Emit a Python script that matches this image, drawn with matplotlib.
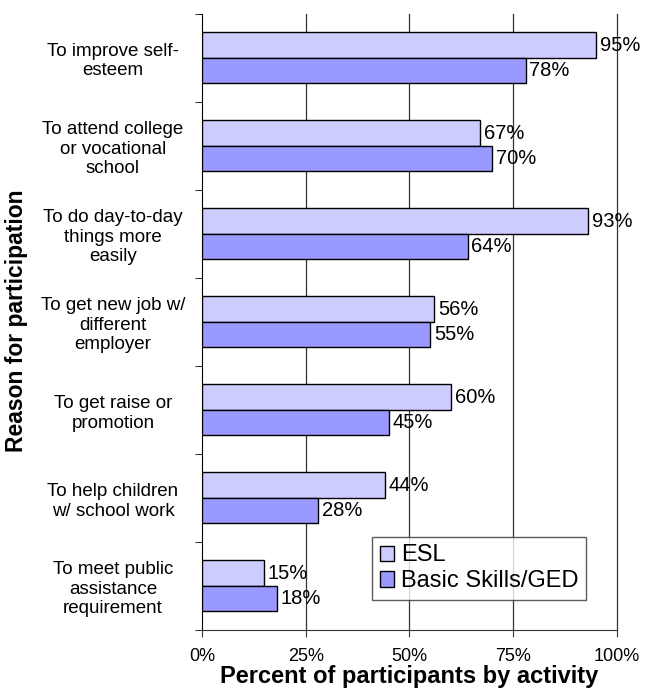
import numpy as np
import matplotlib.pyplot as plt
from matplotlib.ticker import FixedLocator, NullFormatter

plt.rcParams['font.family'] = ['Liberation Sans', 'DejaVu Sans']

reasons = [
    "To improve self-\nesteem",
    "To attend college\nor vocational\nschool",
    "To do day-to-day\nthings more\neasily",
    "To get new job w/\ndifferent\nemployer",
    "To get raise or\npromotion",
    "To help children\nw/ school work",
    "To meet public\nassistance\nrequirement",
]
esl = [95, 67, 93, 56, 60, 44, 15]
basic = [78, 70, 64, 55, 45, 28, 18]

fig = plt.figure(figsize=(6.46, 6.90), dpi=100)
ax = fig.add_axes([0.3127, 0.087, 0.6424, 0.893])

n = len(reasons)
y = np.arange(n)
h = 0.29
ax.barh(y - h / 2, esl, height=h, color='#CCCCFF', edgecolor='black',
        linewidth=1.0, label='ESL', zorder=3)
ax.barh(y + h / 2, basic, height=h, color='#9999FF', edgecolor='black',
        linewidth=1.0, label='Basic Skills/GED', zorder=3)

for yi, v in zip(y, esl):
    ax.text(v + 0.9, yi - h / 2, f"{v}%", va='center', ha='left', fontsize=14.5, zorder=4)
for yi, v in zip(y, basic):
    ax.text(v + 0.9, yi + h / 2, f"{v}%", va='center', ha='left', fontsize=14.5, zorder=4)

ax.set_xlim(0, 100)
ax.set_ylim(n - 0.5, -0.5)
ax.set_xticks([0, 25, 50, 75, 100])
ax.set_xticklabels(['0%', '25%', '50%', '75%', '100%'], fontsize=13)
for gx in [25, 50, 75, 100]:
    ax.axvline(gx, color='#333333', linewidth=0.9, zorder=0, clip_on=False)

# category labels in the middle, ticks on band boundaries
ax.set_yticks(y)
ax.set_yticklabels(reasons, fontsize=13.5, multialignment='center', linespacing=1.2)
ax.tick_params(axis='y', which='major', length=0, pad=0)
for lbl in ax.get_yticklabels():
    lbl.set_horizontalalignment('center')
    lbl.set_x(-0.2145)
ax.yaxis.set_minor_locator(FixedLocator(np.arange(-0.5, n, 1.0)))
ax.yaxis.set_minor_formatter(NullFormatter())
ax.tick_params(axis='y', which='minor', length=5, direction='out', color='black')
ax.tick_params(axis='x', length=5, direction='out', color='#333333', pad=8)

for s in ['top', 'right']:
    ax.spines[s].set_visible(False)
ax.spines['left'].set_color('black')
ax.spines['bottom'].set_color('#333333')

ax.set_xlabel('Percent of participants by activity', fontsize=17, fontweight='bold', labelpad=0)
fig.text(0.025, 0.535, 'Reason for participation', rotation=90, fontsize=16.5,
         fontweight='bold', va='center', ha='center')

leg = ax.legend(loc='upper left', bbox_to_anchor=(0.41, 0.151), fontsize=17,
                frameon=True, fancybox=False, edgecolor='#333333',
                handlelength=0.62, handleheight=0.62, handletextpad=0.3,
                borderpad=0.32, labelspacing=0.16, borderaxespad=0)
leg.get_frame().set_linewidth(1.0)

fig.savefig('out.png', dpi=100)
